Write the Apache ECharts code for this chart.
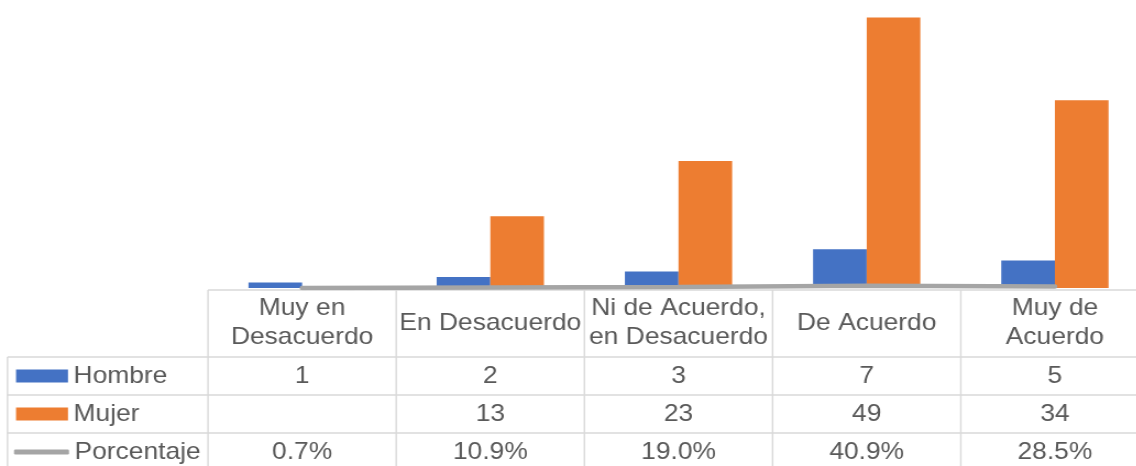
<!DOCTYPE html>
<html>
<head>
<meta charset="utf-8">
<script src="https://cdn.jsdelivr.net/npm/echarts@6/dist/echarts.min.js"></script>
<style>
  html, body { margin: 0; padding: 0; background: #fff; overflow: hidden; }
  /* the original picture is stretched sideways, so the canvas is too */
  #chart { width: 1033px; height: 466px; transform: scaleX(1.1); transform-origin: 0 0; }
</style>
</head>
<body>
<div id="chart"></div>
<script>
// data
const categories = ['Muy en\nDesacuerdo', 'En Desacuerdo', 'Ni de Acuerdo,\nen Desacuerdo', 'De Acuerdo', 'Muy de\nAcuerdo'];
const hombre = [1, 2, 3, 7, 5];
const mujer = [null, 13, 23, 49, 34];
const porcentaje = [0.007, 0.109, 0.190, 0.409, 0.285];
const seriesNames = ['Hombre', 'Mujer', 'Porcentaje'];

const S = 1.1; // horizontal stretch of the page
const colors = ['#4472C4', '#ED7D31', '#A5A5A5'];
const textColor = '#595959';
const lineColor = '#D9D9D9';
const font = 'Liberation Sans, Arial, sans-serif';
const fontSize = 24;

// table geometry (rows under the plot)
const tableTop = 290;
const rowLines = [357, 395, 433];
const rowCenters = [376, 414, 452];
const tableBottom = 470;
const tableLeft = 7.5 / S;

const chart = echarts.init(document.getElementById('chart'));

function legendFor(i, icon, x, w, h) {
  return {
    data: [{ name: seriesNames[i], icon: icon }],
    left: x / S - 5,
    top: rowCenters[i] - 13 - 5,
    itemWidth: w / S,
    itemHeight: h,
    itemGap: 0,
    selectedMode: false,
    textStyle: { fontFamily: font, fontSize: fontSize, color: textColor, lineHeight: 26, padding: 0 }
  };
}

chart.setOption({
  animation: false,
  color: colors,
  grid: { left: 208 / S, top: 12, width: 941 / S, height: 276, outerBoundsMode: 'none', containLabel: false },
  legend: [
    legendFor(0, 'rect', 16, 52, 13),
    legendFor(1, 'rect', 16, 52, 13),
    legendFor(2, 'roundRect', 14, 55, 5)
  ],
  xAxis: {
    type: 'category',
    data: categories,
    axisLine: { show: false },
    axisTick: { show: false },
    axisLabel: {
      interval: 0,
      margin: 35,
      verticalAlign: 'middle',
      fontFamily: font,
      fontSize: fontSize,
      lineHeight: 29,
      color: textColor
    }
  },
  yAxis: {
    type: 'value',
    min: 0,
    max: 50,
    show: false,
    splitLine: { show: false }
  },
  series: [
    {
      name: seriesNames[0],
      type: 'bar',
      data: hombre,
      barGap: '0%',
      barCategoryGap: '43%'
    },
    {
      name: seriesNames[1],
      type: 'bar',
      data: mujer,
      barGap: '0%',
      barCategoryGap: '43%'
    },
    {
      name: seriesNames[2],
      type: 'line',
      data: porcentaje,
      symbol: 'none',
      lineStyle: { width: 4.5, color: colors[2], cap: 'round' }
    }
  ]
});

// draw the data table, aligned with the category axis
const c0 = chart.convertToPixel({ xAxisIndex: 0 }, 0);
const c1 = chart.convertToPixel({ xAxisIndex: 0 }, 1);
const half = (c1 - c0) / 2;
const rightEdge = 1040;

let elements = [];
function hline(y, x1, x2) {
  elements.push({ type: 'line', shape: { x1: x1, y1: y, x2: x2, y2: y }, style: { stroke: lineColor, lineWidth: 1.5 }, silent: true });
}
function vline(x, y1, y2) {
  elements.push({ type: 'line', shape: { x1: x, y1: y1, x2: x, y2: y2 }, style: { stroke: lineColor, lineWidth: 1.4 }, silent: true });
}
function cellText(txt, x, y) {
  elements.push({
    type: 'text',
    silent: true,
    style: {
      text: txt, x: x, y: y,
      font: fontSize + 'px ' + font,
      fill: textColor,
      textAlign: 'center', textVerticalAlign: 'middle',
      align: 'center', verticalAlign: 'middle'
    }
  });
}

hline(tableTop, c0 - half, rightEdge);
rowLines.forEach(y => hline(y, tableLeft, rightEdge));
vline(tableLeft, rowLines[0], tableBottom);
for (let i = 0; i <= categories.length; i++) {
  vline(c0 - half + i * 2 * half, tableTop, tableBottom);
}

const rows = [
  hombre.map(v => v == null ? '' : String(v)),
  mujer.map(v => v == null ? '' : String(v)),
  porcentaje.map(v => v == null ? '' : (v * 100).toFixed(1) + '%')
];
rows.forEach((row, r) => {
  row.forEach((txt, i) => {
    const cx = chart.convertToPixel({ xAxisIndex: 0 }, i);
    cellText(txt, cx, rowCenters[r]);
  });
});

chart.setOption({ graphic: elements });
</script>
</body>
</html>
